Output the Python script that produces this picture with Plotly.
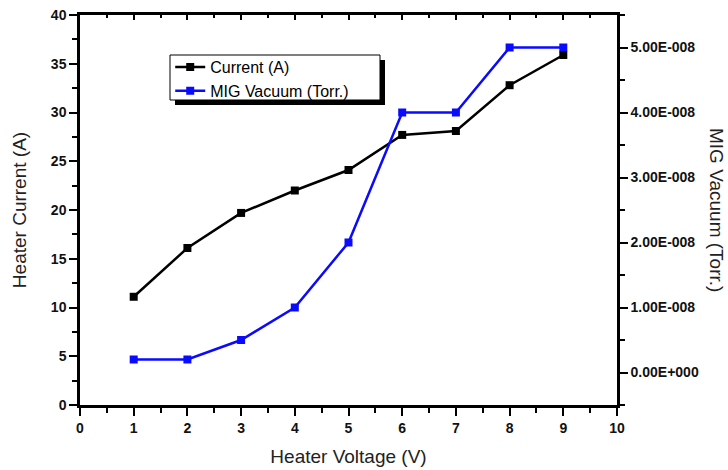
import plotly.graph_objects as go

voltage = [1, 2, 3, 4, 5, 6, 7, 8, 9]
current = [11.1, 16.1, 19.7, 22.0, 24.1, 27.7, 28.1, 32.8, 35.9]
vacuum = [0.2e-8, 0.2e-8, 0.5e-8, 1.0e-8, 2.0e-8, 4.0e-8, 4.0e-8, 5.0e-8, 5.0e-8]
vac_tickvals = [0, 1e-8, 2e-8, 3e-8, 4e-8, 5e-8]
vac_ticktext = ["0.00E+000", "1.00E-008", "2.00E-008", "3.00E-008", "4.00E-008", "5.00E-008"]
vac_minor = [-0.5e-8, 0.5e-8, 1.5e-8, 2.5e-8, 3.5e-8, 4.5e-8, 5.5e-8]

FONT = "Liberation Sans, Arial, sans-serif"
BLUE = "#0a0aff"

fig = go.Figure()
fig.add_trace(go.Scatter(x=voltage, y=current, name="Current (A)", mode="lines+markers",
                         line=dict(color="black", width=2.5),
                         marker=dict(symbol="square", size=8, color="black"),
                         xaxis="x", yaxis="y"))
fig.add_trace(go.Scatter(x=voltage, y=vacuum, name="MIG Vacuum (Torr.)", mode="lines+markers",
                         line=dict(color=BLUE, width=2.5),
                         marker=dict(symbol="square", size=8, color=BLUE),
                         xaxis="x", yaxis="y2"))

tickfont = dict(family=FONT, size=14, color="#111", weight="bold")
titlefont = dict(family=FONT, size=19, color="#222")
fig.update_layout(
    width=728, height=470,
    margin=dict(l=80, r=111, t=15, b=65, autoexpand=False),
    paper_bgcolor="white", plot_bgcolor="white",
    showlegend=True,
    legend=dict(x=0.168, y=0.910, xanchor="left", yanchor="top",
                bgcolor="rgba(0,0,0,0)", borderwidth=0,
                font=dict(family=FONT, size=16, color="black"),
                tracegroupgap=0, itemwidth=30),
    xaxis=dict(range=[0, 10], dtick=1, tick0=0, showgrid=False, zeroline=False, automargin=False,
               showline=True, linecolor="black", linewidth=2.5, mirror=True,
               ticks="outside", ticklen=8, tickwidth=2, tickcolor="black",
               minor=dict(dtick=0.5, ticks="outside", ticklen=5, tickwidth=2, tickcolor="black"),
               tickfont=tickfont,
               title=dict(text="Heater Voltage (V)", font=titlefont, standoff=16)),
    xaxis2=dict(range=[0, 10], overlaying="x", side="top", dtick=1, tick0=0, showgrid=False,
                zeroline=False, showline=False, ticks="inside", ticklen=5, tickwidth=2, automargin=False,
                tickcolor="black", showticklabels=False,
                minor=dict(dtick=0.5, ticks="inside", ticklen=3, tickwidth=2, tickcolor="black")),
    yaxis=dict(range=[0, 40], dtick=5, tick0=0, showgrid=False, zeroline=False, automargin=False,
               showline=True, linecolor="black", linewidth=2.5,
               ticks="outside", ticklen=8, tickwidth=2, tickcolor="black",
               minor=dict(dtick=2.5, ticks="outside", ticklen=5, tickwidth=2, tickcolor="black"),
               tickfont=tickfont,
               title=dict(text="Heater Current (A)", font=titlefont, standoff=20)),
    yaxis2=dict(range=[-0.5e-8, 5.5e-8], overlaying="y", side="right", showgrid=False, zeroline=False,
                showline=True, linecolor="black", linewidth=2.5, automargin=False,
                tickmode="array", tickvals=vac_tickvals, ticktext=vac_ticktext,
                ticks="outside", ticklen=8, tickwidth=2, tickcolor="black",
                minor=dict(tickmode="array", tickvals=vac_minor, ticks="outside", ticklen=5,
                           tickwidth=2, tickcolor="black"),
                tickfont=tickfont),
)
# invisible trace to activate top axis
fig.add_trace(go.Scatter(x=[0], y=[0], xaxis="x2", yaxis="y", mode="markers",
                         marker=dict(opacity=0), showlegend=False, hoverinfo="skip"))

# legend frame with drop shadow (pixel-based placement converted to paper coords)
def px_x(p):
    return (p - 80) / 537
def px_y(p):
    return (405 - p) / 390
fig.add_shape(type="rect", xref="paper", yref="paper", x0=px_x(175), x1=px_x(385),
              y0=px_y(105), y1=px_y(60), fillcolor="black", line=dict(width=0), layer="above")
fig.add_shape(type="rect", xref="paper", yref="paper", x0=px_x(170), x1=px_x(380),
              y0=px_y(100), y1=px_y(55), fillcolor="white", line=dict(width=1, color="black"),
              layer="above")

fig.add_annotation(text="MIG Vacuum (Torr.)", textangle=90, xref="paper", yref="paper",
                   x=1.0, xshift=100, y=0.5, xanchor="center", yanchor="middle", showarrow=False,
                   font=titlefont)

fig.write_html("out.html")
